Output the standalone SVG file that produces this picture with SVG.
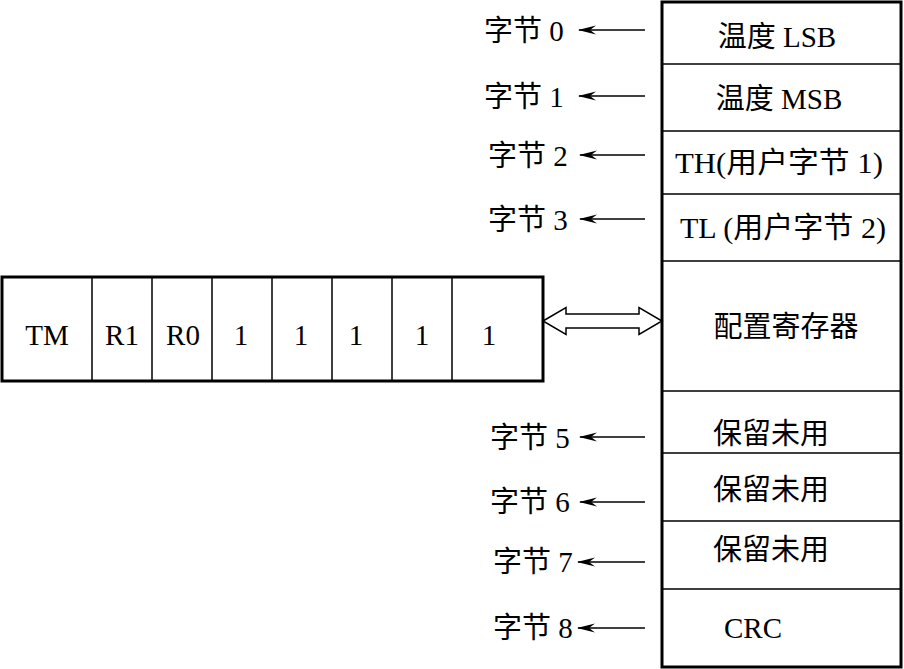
<svg xmlns="http://www.w3.org/2000/svg" width="904" height="669" viewBox="0 0 904 669">
<style>
text{font-family:"Liberation Serif","Noto Sans CJK SC",serif;font-size:29px;fill:#000}
.m{text-anchor:middle}
.thick{fill:none;stroke:#000;stroke-width:3}
.thin{fill:none;stroke:#000;stroke-width:1.5}
.arr{stroke:#000;stroke-width:1.4;fill:none;marker-end:url(#ah)}
</style>
<defs>
<marker id="ah" markerWidth="18" markerHeight="10" refX="17" refY="5" orient="auto" markerUnits="userSpaceOnUse" viewBox="0 0 18 10">
<path d="M18,5 L0,0.5 L6,5 L0,9.5 Z" fill="#000"/>
</marker>
</defs>
<rect width="904" height="669" fill="#fff"/>
<g id="memory">
<rect class="thick" x="662" y="2" width="239" height="665"/>
<path class="thin" d="M662,64H901M662,131H901M662,194H901M662,261H901M662,391H901M662,453H901M662,521H901M662,589H901"/>
<text class="m" x="777" y="47">温度 LSB</text>
<text class="m" x="779" y="109">温度 MSB</text>
<text x="675" y="173" textLength="208" lengthAdjust="spacingAndGlyphs">TH(用户字节 1)</text>
<text x="680" y="238" textLength="206" lengthAdjust="spacingAndGlyphs">TL (用户字节 2)</text>
<text class="m" x="786" y="337">配置寄存器</text>
<text x="713" y="444">保留未用</text>
<text x="713" y="500">保留未用</text>
<text x="713" y="560">保留未用</text>
<text x="724" y="638">CRC</text>
</g>
<g id="config">
<rect class="thick" x="2" y="277" width="541" height="104"/>
<path class="thin" d="M92,277V381M152,277V381M212,277V381M272,277V381M332,277V381M392,277V381M452,277V381"/>
<text class="m" x="47" y="345">TM</text>
<text class="m" x="122" y="345">R1</text>
<text class="m" x="183" y="345">R0</text>
<text class="m" x="241" y="345">1</text>
<text class="m" x="301" y="345">1</text>
<text class="m" x="356" y="345">1</text>
<text class="m" x="422" y="345">1</text>
<text class="m" x="489" y="345">1</text>
</g>
<g id="labels">
<text x="484" y="41">字节 0</text>
<text x="484" y="107">字节 1</text>
<text x="488" y="166">字节 2</text>
<text x="488" y="230">字节 3</text>
<text x="490" y="448">字节 5</text>
<text x="490" y="512">字节 6</text>
<text x="493" y="572">字节 7</text>
<text x="493" y="638">字节 8</text>
</g>
<g id="connectors">
<path class="arr" d="M645,30H579"/>
<path class="arr" d="M645,96H579"/>
<path class="arr" d="M645,155H580"/>
<path class="arr" d="M645,219H580"/>
<path class="arr" d="M645,437H580"/>
<path class="arr" d="M645,502H580"/>
<path class="arr" d="M645,562H578"/>
<path class="arr" d="M645,628H578"/>
<path d="M543,321 L566,307.5 L566,314 L639,314 L639,307.5 L662,321 L639,334.5 L639,328 L566,328 L566,334.5 Z" fill="#fff" stroke="#000" stroke-width="1.5"/>
</g>
</svg>
